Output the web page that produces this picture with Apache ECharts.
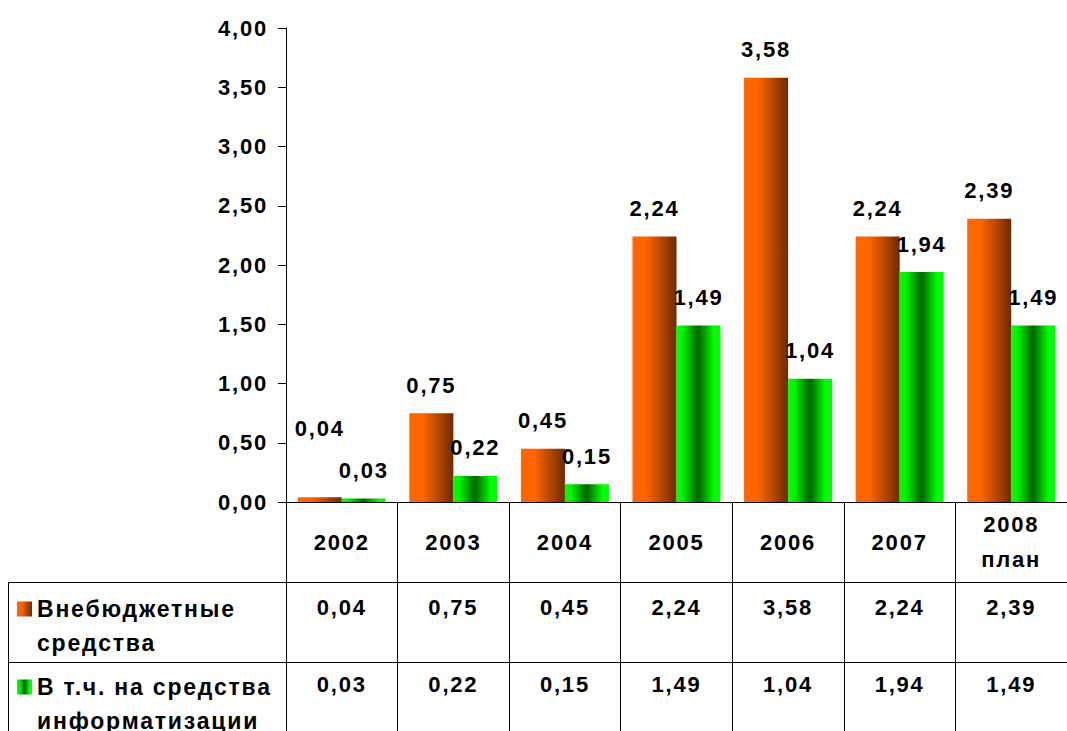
<!DOCTYPE html>
<html><head><meta charset="utf-8">
<script src="https://cdn.jsdelivr.net/npm/echarts@6/dist/echarts.min.js"></script>
<style>
html,body{margin:0;padding:0;background:#fff;}
#c{width:1067px;height:731px;}
#c text{letter-spacing:1.8px;}
</style></head><body><div id="c"></div>
<script>
const categories = ['2002','2003','2004','2005','2006','2007','2008\nплан'];
const extraBudget = [0.04,0.75,0.45,2.24,3.58,2.24,2.39];
const itBudget = [0.03,0.22,0.15,1.49,1.04,1.94,1.49];
const seriesNames = ['Внебюджетные средства','В т.ч. на средства информатизации'];
const legendLabels = ['Внебюджетные\nсредства','В т.ч. на средства\nинформатизации'];

const FONT = 'Liberation Sans';
const fmt = v => v.toFixed(2).replace('.', ',');
const txt = {fontFamily: FONT, fontWeight: 'bold', fontSize: 22, color: '#000'};

const orange = new echarts.graphic.LinearGradient(0,0,1,0,[
  {offset:0,color:'#FF6600'},{offset:0.3,color:'#FF6600'},{offset:1,color:'#6E2A00'}]);
const green = new echarts.graphic.LinearGradient(0,0,1,0,[
  {offset:0,color:'#00FF00'},{offset:0.15,color:'#00F000'},{offset:0.5,color:'#006400'},{offset:0.85,color:'#00FF00'},{offset:1,color:'#00FF00'}]);

const chart = echarts.init(document.getElementById('c'), null, {renderer:'svg'});
const extraData = extraBudget.map((v,i) => i === 0 ? {value:v, label:{offset:[0,-41]}} : v);

function valueAxis(arr, margin){
  return {
    type:'category', data: categories, gridIndex:0, position:'bottom',
    axisLine:{show:false}, axisTick:{show:false}, splitLine:{show:false},
    axisLabel:{...txt, interval:0, margin: margin, verticalAlign:'middle',
      formatter:(v,i) => fmt(arr[i])}
  };
}

chart.setOption({
  animation:false,
  backgroundColor:'#fff',
  grid:{left:286, top:28, width:791, height:474, containLabel:false},
  legend:[
    {data:[seriesNames[0]], left:17, top:558, padding:0, orient:'vertical', icon:'rect', itemWidth:15, itemHeight:15,
     selectedMode:false, formatter:() => ' \n' + legendLabels[0], textStyle:{...txt, fontSize:23, lineHeight:34}},
    {data:[seriesNames[1]], left:17, top:636, padding:0, orient:'vertical', icon:'rect', itemWidth:15, itemHeight:15,
     selectedMode:false, formatter:() => ' \n' + legendLabels[1], textStyle:{...txt, fontSize:23, lineHeight:34}}
  ],
  xAxis:[
    {type:'category', data: categories, gridIndex:0, position:'bottom',
     axisLine:{show:true, lineStyle:{color:'#000', width:1}},
     axisTick:{show:true, alignWithLabel:false, length:229, lineStyle:{color:'#000', width:1}},
     splitLine:{show:false},
     axisLabel:{...txt, interval:0, margin:40, verticalAlign:'middle', lineHeight:35}},
    valueAxis(extraBudget, 105),
    valueAxis(itBudget, 182)
  ],
  yAxis:{type:'value', min:0, max:4, interval:0.5,
    axisLine:{show:true, lineStyle:{color:'#000', width:1}},
    axisTick:{show:true, inside:false, length:8, lineStyle:{color:'#000'}},
    splitLine:{show:false},
    axisLabel:{...txt, margin:18, formatter: v => fmt(v)}},
  series:[
    {name:seriesNames[0], type:'bar', data: extraData, barWidth:44, barGap:'0%',
     itemStyle:{color: orange},
     label:{show:true, position:'top', distance:17, ...txt, formatter: p => fmt(p.value)}},
    {name:seriesNames[1], type:'bar', data: itBudget, barWidth:44, barGap:'0%',
     itemStyle:{color: green},
     label:{show:true, position:'top', distance:17, ...txt, formatter: p => fmt(p.value)}}
  ],
  graphic:[
    {type:'line', shape:{x1:8, y1:582.5, x2:1067, y2:582.5}, style:{stroke:'#000', lineWidth:1}},
    {type:'line', shape:{x1:8, y1:662.5, x2:1067, y2:662.5}, style:{stroke:'#000', lineWidth:1}},
    {type:'line', shape:{x1:8.5, y1:582, x2:8.5, y2:731}, style:{stroke:'#000', lineWidth:1}}
  ]
});
</script></body></html>
